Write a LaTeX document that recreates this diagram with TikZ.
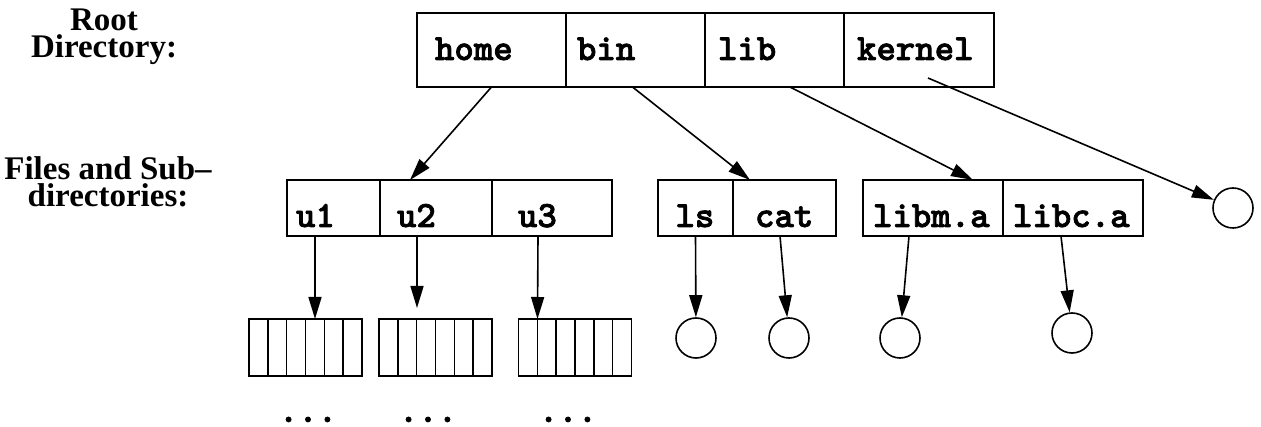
\documentclass[tikz,border=0pt]{standalone}
\usepackage{fontspec}
\setmainfont{Liberation Serif}
\newfontfamily\recmono[FakeBold=2]{lmmonolt10-bold.otf}
\usetikzlibrary{shapes, arrows.meta, positioning}

\newcommand{\recfont}{\recmono\fontsize{37}{37}\selectfont}
\newcommand{\lblfont}{\bfseries\fontsize{33}{27}\selectfont}

\tikzset{
  rec/.style={draw, outer sep=0pt, inner ysep=0pt, font=\recfont, align=left, text depth=0pt},
  toprec/.style={rec, minimum height=74pt, text height=20pt},
  midrec/.style={rec, minimum height=56pt, text height=38pt},
  inode/.style={draw, circle, minimum size=40pt, inner sep=0pt},
  blk/.style={draw, outer sep=0pt, minimum width=113pt, minimum height=57pt, inner sep=0pt,
    path picture={\foreach \k in {1,...,5}
      \draw ([xshift={\k*18.83pt}]path picture bounding box.north west) -- ([xshift={\k*18.83pt}]path picture bounding box.south west);}},
  arr/.style={-{Triangle[length=22pt,width=13pt]}},
  lbl/.style={font=\lblfont, align=center},
  dots/.style={font=\recfont, anchor=base, inner sep=0pt, text height=8pt, text depth=0pt}
}

\begin{document}
\begin{tikzpicture}[x=1pt, y=-1pt, line width=1.6pt]
\useasboundingbox (0,0) rectangle (1261,427);

\node [lbl, anchor=base] (rootlbl) at (104,58) {Root\\Directory:};
\node [lbl, anchor=base] (fileslbl) at (108,207) {Files and Sub\textendash\\directories:};

% root directory
\node [toprec, text width=113pt, inner xsep=18pt] (home) at (491.5,50) {home};
\node [toprec, text width=117pt, inner xsep=11pt, right=0pt of home] (bin) {bin};
\node [toprec, text width=113pt, inner xsep=13pt, right=0pt of bin] (lib) {lib};
\node [toprec, text width=124pt, inner xsep=13pt, right=0pt of lib] (kernel) {kernel};

% sub-directories
\node [midrec, text width=75pt, inner xsep=9pt] (u1) at (333.5,208) {u1};
\node [midrec, text width=78pt, inner xsep=17pt, right=0pt of u1] (u2) {u2};
\node [midrec, text width=68pt, inner xsep=26pt, right=0pt of u2] (u3) {u3};
\node [midrec, text width=40pt, inner xsep=17.5pt] (ls) at (695.5,208) {ls};
\node [midrec, text width=59pt, inner xsep=22pt, right=0pt of ls] (cat) {cat};
\node [midrec, text width=120pt, inner xsep=10pt] (libm) at (933,208) {libm.a};
\node [midrec, text width=120pt, inner xsep=10pt, right=0pt of libm] (libc) {libc.a};

% files
\node [inode] (kernf) at (1233,208) {};
\node [inode] (lsf) at (696,338) {};
\node [inode] (catf) at (789,338) {};
\node [inode] (libmf) at (900,338) {};
\node [inode] (libcf) at (1072,333) {};

\node [blk] (b1) at (305.5,347.5) {};
\node [blk] (b2) at (435.5,347.5) {};
\node [blk] (b3) at (575,347.5) {};
\node [dots] (d1) at (308,422) {...};
\node [dots] (d2) at (428,422) {...};
\node [dots] (d3) at (568,422) {...};

\draw [arr] (home.south) -- ([xshift=30pt]u2.north west);
\draw [arr] ([xshift=-3pt]bin.south) -- ([xshift=17pt]cat.north west);
\draw [arr] ([xshift=85pt]lib.south west) -- ([xshift=110pt]libm.north west);
\draw [arr] ([xshift=9pt, yshift=9pt]kernel.south) -- (kernf);
\draw [arr] (ls.south) -- (lsf);
\draw [arr] ([xshift=-4.5pt]cat.south) -- (catf);
\draw [arr] ([xshift=46pt]libm.south west) -- (libmf);
\draw [arr] ([xshift=58pt]libc.south west) -- (libcf);
\draw [arr] ([xshift=28pt]u1.south west) -- ([xshift=66pt]b1.north west);
\draw [arr] ([xshift=37pt]u2.south west) -- ([xshift=38pt, yshift=11pt]b2.north west);
\draw [arr] ([xshift=46pt]u3.south west) -- ([xshift=19pt]b3.north west);
\end{tikzpicture}
\end{document}
